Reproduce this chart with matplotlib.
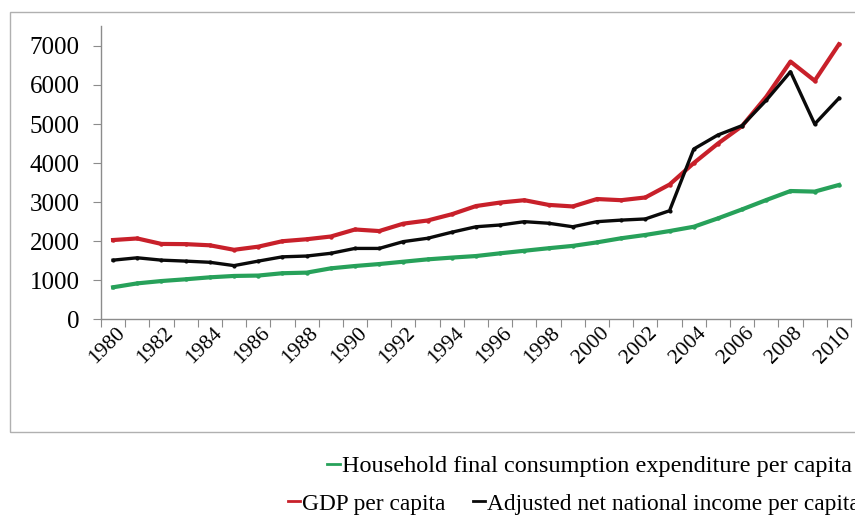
import matplotlib
matplotlib.use("Agg")
import matplotlib.pyplot as plt
from matplotlib.patches import Rectangle

years = list(range(1980, 2011))

gdp = [2030, 2070, 1930, 1925, 1895, 1780, 1860, 2000, 2050, 2120, 2300,
       2260, 2450, 2530, 2690, 2900, 2990, 3050, 2930, 2890, 3080, 3050,
       3120, 3450, 4000, 4500, 4950, 5700, 6600, 6110, 7040]
anni = [1515, 1575, 1515, 1490, 1460, 1375, 1490, 1600, 1620, 1690, 1815,
        1815, 1990, 2075, 2230, 2370, 2415, 2500, 2460, 2370, 2500, 2540,
        2570, 2780, 4360, 4720, 4960, 5610, 6340, 5000, 5660]
hfce = [820, 920, 980, 1025, 1075, 1110, 1120, 1180, 1195, 1305, 1365,
        1415, 1475, 1535, 1580, 1620, 1690, 1755, 1820, 1880, 1970, 2075,
        2160, 2260, 2370, 2585, 2815, 3055, 3285, 3270, 3440]

green = "#27a15a"
red = "#c8202a"
black = "#0a0a0a"

plt.rcParams["font.family"] = ["Liberation Serif", "DejaVu Serif"]

fig = plt.figure(figsize=(8.55, 5.16), dpi=100)
ax = fig.add_axes([0.1181, 0.3812, 0.8772, 0.5676])

x = list(range(len(years)))
ax.plot(x, hfce, color=green, lw=3.0, marker='o', ms=2.2, label="Household final consumption expenditure per capita")
ax.plot(x, gdp, color=red, lw=3.0, marker='o', ms=2.2, label="GDP per capita")
ax.plot(x, anni, color=black, lw=2.4, marker='o', ms=2.0, label="Adjusted net national income per capita")

ax.set_ylim(0, 7500)
ax.set_yticks(range(0, 7001, 1000))
ax.set_xlim(-0.5, len(years) - 0.5)

# category axis: ticks on the boundaries, labels every second year
# (labels sit on invisible minor ticks nudged a little to the left)
ax.set_xticks([i - 0.5 for i in range(len(years) + 1)])
ax.set_xticklabels([])
ax.set_xticks([i - 0.25 for i in x[::2]], minor=True)
ax.set_xticklabels([str(y) for y in years[::2]], minor=True, rotation=45,
                   ha="center", va="top", fontsize=15.5)
ax.tick_params(axis="x", which="minor", length=0, pad=3)
ax.tick_params(axis="x", which="major", length=6, color="#8c8c8c", direction="out")
ax.tick_params(axis="y", length=6, color="#8c8c8c", labelsize=18, pad=9.5)

for side in ["top", "right"]:
    ax.spines[side].set_visible(False)
for side in ["left", "bottom"]:
    ax.spines[side].set_color("#8c8c8c")
    ax.spines[side].set_linewidth(1.0)

# chart frame
frame = Rectangle((10 / 855, 1 - 432 / 516), 0.99, (432 - 12) / 516,
                  transform=fig.transFigure, fill=False, ec="#b0b0b0", lw=1.0, clip_on=False)
fig.add_artist(frame)

h = ax.get_lines()
leg1 = fig.legend([h[0]], [h[0].get_label()], loc="center right",
                  bbox_to_anchor=(852 / 855, 1 - 466 / 516), frameon=False,
                  fontsize=17.5, handlelength=0.5, handletextpad=0.1,
                  borderaxespad=0, borderpad=0)
leg2 = fig.legend([h[1], h[2]], [h[1].get_label(), h[2].get_label()], loc="center left",
                  bbox_to_anchor=(288 / 855, 1 - 504 / 516), frameon=False, ncol=2,
                  fontsize=16.8, handlelength=0.5, handletextpad=0.1, columnspacing=1.2,
                  borderaxespad=0, borderpad=0)
for leg in (leg1, leg2):
    for ln in leg.get_lines():
        ln.set_linewidth(2.0)
        ln.set_marker("")

fig.savefig("out.png", dpi=100)
